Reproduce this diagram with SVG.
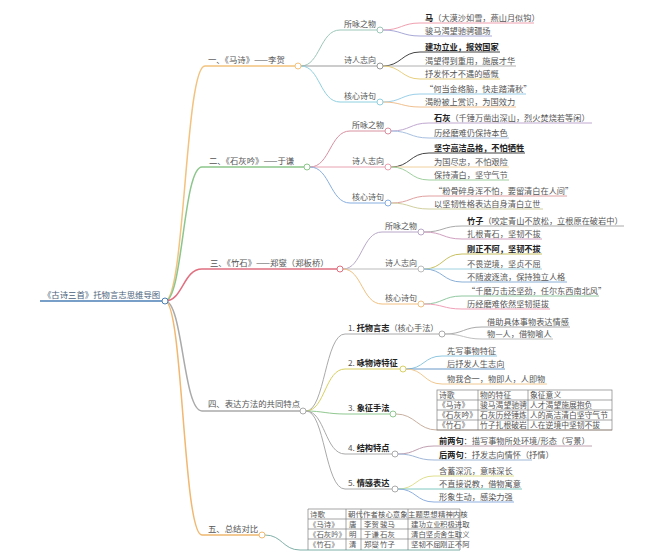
<svg xmlns="http://www.w3.org/2000/svg" width="652" height="559" viewBox="0 0 652 559">
<style>
text{font-family:"Noto Sans CJK SC","Noto Sans",sans-serif;font-size:8.2px;fill:#555}
.l1{font-size:8.4px;fill:#555}
.l2{font-size:8px;fill:#555}
.b{font-weight:bold;fill:#222}
.tb{font-size:7.8px;fill:#555}
.tb5{font-size:7.4px;fill:#555}
#connectors path{fill:none;stroke-width:1}
#connectors .m{stroke-width:1.5}
.dot{fill:#fff;stroke-width:1}
.grid line,.grid rect{stroke:#808080;stroke-width:0.7;fill:none}
</style>
<rect width="652" height="559" fill="#fff"/>
<g id="connectors">
<path d="M40,301 H162" stroke="#4a7fb5" stroke-width="1.8" class="m"/>
<path class="m" d="M165,301 C185,301 185,66 205,66 H295" stroke="#f2c27e"/>
<path class="m" d="M165,301 C183,301 183,167 202,167 H304" stroke="#8cc68c"/>
<path class="m" d="M165,301 C183,301 183,269 202,269 H337" stroke="#e07080"/>
<path class="m" d="M165,301 C183,301 183,411 202,411 H300" stroke="#aaaaaa"/>
<path class="m" d="M165,301 C183,301 183,535 202,535 H259" stroke="#f0b870"/>
<!-- b1 -->
<path d="M301,66 C320,66 320,30 340,30 H377" stroke="#9cc7b8"/>
<path d="M301,66 H377" stroke="#999"/>
<path d="M301,66 C320,66 320,102 340,102 H377" stroke="#8fd0e0"/>
<path d="M383,30 C401,30 402,23 420,23 H534" stroke="#f0a0b0"/>
<path d="M383,30 C401,30 402,36 420,36 H492" stroke="#a8a8d8"/>
<path d="M383,66 C401,66 402,52 420,52 H500" stroke="#444"/>
<path d="M383,66 H516" stroke="#b0b0b0"/>
<path d="M383,66 C401,66 402,79 420,79 H500" stroke="#e8d080"/>
<path d="M383,102 C401,102 402,94 420,94 H526" stroke="#9ad0e8"/>
<path d="M383,102 C401,102 402,107 420,107 H516" stroke="#f0c090"/>
<!-- b2 -->
<path d="M310,167 C330,167 330,131 350,131 H385" stroke="#d890a0"/>
<path d="M310,167 H385" stroke="#e8a0b0"/>
<path d="M310,167 C330,167 330,203 350,203 H385" stroke="#88aee0"/>
<path d="M391,131 C410,131 410,123 429,123 H592" stroke="#c0a8d0"/>
<path d="M391,131 C410,131 410,138 429,138 H509" stroke="#a8c0e0"/>
<path d="M391,167 C410,167 410,153 429,153 H525" stroke="#444"/>
<path d="M391,167 H509" stroke="#f0d0a0"/>
<path d="M391,167 C410,167 410,180 429,180 H509" stroke="#a0d0a0"/>
<path d="M391,203 C410,203 410,196 429,196 H567" stroke="#e0a0a0"/>
<path d="M391,203 C410,203 410,209 429,209 H543" stroke="#d0d0a0"/>
<!-- b3 -->
<path d="M343,269 C362,269 362,232 382,232 H418" stroke="#b8a8c8"/>
<path d="M343,269 H418" stroke="#bbbbbb"/>
<path d="M343,269 C362,269 362,304 382,304 H418" stroke="#f0c080"/>
<path d="M424,232 C443,232 443,226 462,226 H624" stroke="#aaaaaa"/>
<path d="M424,232 C443,232 443,239 462,239 H542" stroke="#d0a0c0"/>
<path d="M424,269 C443,269 443,254 462,254 H542" stroke="#c8c060"/>
<path d="M424,269 H542" stroke="#a0d0e0"/>
<path d="M424,269 C443,269 443,282 462,282 H567" stroke="#8ab0d8"/>
<path d="M424,304 C443,304 443,296 462,296 H599" stroke="#90c8a0"/>
<path d="M424,304 C443,304 443,309 462,309 H550" stroke="#f0a0b8"/>
<!-- b4 -->
<path d="M306,411 C325,411 325,334 345,334 H439" stroke="#aaaaaa"/>
<path d="M306,411 C325,411 325,369 345,369 H400" stroke="#d8d060"/>
<path d="M306,411 C322,411 328,414 345,414 H390" stroke="#90c890"/>
<path d="M306,411 C325,411 325,454 345,454 H392" stroke="#aaaaaa"/>
<path d="M306,411 C325,411 325,489 345,489 H392" stroke="#aaaaaa"/>
<path d="M445,334 C463,334 464,327 482,327 H570" stroke="#aaaaaa"/>
<path d="M445,334 C463,334 464,339 482,339 H553" stroke="#c0c0c0"/>
<path d="M406,369 C424,369 424,356 442,356 H497" stroke="#90c8e0"/>
<path d="M406,369 H505" stroke="#6a9ac8"/>
<path d="M406,369 C424,369 424,384 442,384 H547" stroke="#f0c890"/>
<path d="M396,414 C415,414 418,430 437,430 H612" stroke="#c8b0a0"/>
<path d="M398,454 C416,454 416,446 434,446 H592" stroke="#c0a0b0"/>
<path d="M398,454 C416,454 416,460 434,460 H532" stroke="#a0b8d8"/>
<path d="M398,489 C416,489 416,476 434,476 H514" stroke="#e0e090"/>
<path d="M398,489 H522" stroke="#80c8c0"/>
<path d="M398,489 C416,489 416,502 434,502 H514" stroke="#90b0e0"/>
<!-- b5 -->
<path d="M265,535 C282,535 283,550 300,550 H460" stroke="#7fb0a8"/>
</g>

<g id="root"><text x="43" y="298" class="l1" style="fill:#4a5f7a">《古诗三首》托物言志思维导图</text><circle class="dot" cx="165" cy="301" r="3" stroke="#4a7fb5"/></g>

<g id="b1"><text x="208" y="63" class="l1">一、《马诗》——李贺</text><circle class="dot" cx="298" cy="66" r="3" stroke="#f2c27e"/></g>
<g id="b1-1"><text x="344" y="27" class="l2">所咏之物</text><circle class="dot" cx="380" cy="30" r="3" stroke="#9cc7b8"/></g>
<g id="b1-2"><text x="344" y="63" class="l2">诗人志向</text><circle class="dot" cx="380" cy="66" r="3" stroke="#999"/></g>
<g id="b1-3"><text x="344" y="99" class="l2">核心诗句</text><circle class="dot" cx="380" cy="102" r="3" stroke="#8fd0e0"/></g>
<g id="b1-1a"><text x="425" y="20.5"><tspan class="b">马</tspan>（大漠沙如雪，燕山月似钩）</text></g>
<g id="b1-1b"><text x="425" y="33.5">骏马渴望驰骋疆场</text></g>
<g id="b1-2a"><text x="425" y="49.5" class="b">建功立业，报效国家</text></g>
<g id="b1-2b"><text x="425" y="63.5">渴望得到重用，施展才华</text></g>
<g id="b1-2c"><text x="425" y="76.5">抒发怀才不遇的感慨</text></g>
<g id="b1-3a"><text x="425" y="91.5">“何当金络脑，快走踏清秋”</text></g>
<g id="b1-3b"><text x="425" y="104.5">渴盼被上赏识，为国效力</text></g>

<g id="b2"><text x="209" y="164" class="l1">二、《石灰吟》——于谦</text><circle class="dot" cx="307" cy="167" r="3" stroke="#8cc68c"/></g>
<g id="b2-1"><text x="352" y="128" class="l2">所咏之物</text><circle class="dot" cx="388" cy="131" r="3" stroke="#d890a0"/></g>
<g id="b2-2"><text x="352" y="164" class="l2">诗人志向</text><circle class="dot" cx="388" cy="167" r="3" stroke="#e8a0b0"/></g>
<g id="b2-3"><text x="352" y="200" class="l2">核心诗句</text><circle class="dot" cx="388" cy="203" r="3" stroke="#88aee0"/></g>
<g id="b2-1a"><text x="434" y="120.5"><tspan class="b">石灰</tspan>（千锤万凿出深山，烈火焚烧若等闲）</text></g>
<g id="b2-1b"><text x="434" y="135.5">历经磨难仍保持本色</text></g>
<g id="b2-2a"><text x="434" y="150.5" class="b">坚守高洁品格，不怕牺牲</text></g>
<g id="b2-2b"><text x="434" y="164.5">为国尽忠，不怕艰险</text></g>
<g id="b2-2c"><text x="434" y="177.5">保持清白，坚守气节</text></g>
<g id="b2-3a"><text x="434" y="193.5">“粉骨碎身浑不怕，要留清白在人间”</text></g>
<g id="b2-3b"><text x="434" y="206.5">以坚韧性格表达自身清白立世</text></g>

<g id="b3"><text x="210" y="266" class="l1">三、《竹石》——郑燮（郑板桥）</text><circle class="dot" cx="340" cy="269" r="3" stroke="#e07080"/></g>
<g id="b3-1"><text x="385" y="229" class="l2">所咏之物</text><circle class="dot" cx="421" cy="232" r="3" stroke="#b8a8c8"/></g>
<g id="b3-2"><text x="385" y="266" class="l2">诗人志向</text><circle class="dot" cx="421" cy="269" r="3" stroke="#bbbbbb"/></g>
<g id="b3-3"><text x="385" y="301" class="l2">核心诗句</text><circle class="dot" cx="421" cy="304" r="3" stroke="#f0c080"/></g>
<g id="b3-1a"><text x="467" y="223.5"><tspan class="b">竹子</tspan>（咬定青山不放松，立根原在破岩中）</text></g>
<g id="b3-1b"><text x="467" y="236.5">扎根青石，坚韧不拔</text></g>
<g id="b3-2a"><text x="467" y="251.5" class="b">刚正不阿，坚韧不拔</text></g>
<g id="b3-2b"><text x="467" y="266.5">不畏逆境，坚贞不屈</text></g>
<g id="b3-2c"><text x="467" y="279.5">不随波逐流，保持独立人格</text></g>
<g id="b3-3a"><text x="467" y="293.5">“千磨万击还坚劲，任尔东西南北风”</text></g>
<g id="b3-3b"><text x="467" y="306.5">历经磨难依然坚韧挺拔</text></g>

<g id="b4"><text x="208" y="407" class="l1">四、表达方法的共同特点</text><circle class="dot" cx="303" cy="411" r="3" stroke="#aaaaaa"/></g>
<g id="b4-1"><text x="348" y="331">1. <tspan class="b">托物言志</tspan>（核心手法）</text><circle class="dot" cx="442" cy="334" r="3" stroke="#aaaaaa"/></g>
<g id="b4-2"><text x="348" y="366">2. <tspan class="b">咏物诗特征</tspan></text><circle class="dot" cx="403" cy="369" r="3" stroke="#d8d060"/></g>
<g id="b4-3"><text x="348" y="411">3. <tspan class="b">象征手法</tspan></text><circle class="dot" cx="393" cy="414" r="3" stroke="#90c890"/></g>
<g id="b4-4"><text x="348" y="451">4. <tspan class="b">结构特点</tspan></text><circle class="dot" cx="395" cy="454" r="3" stroke="#aaaaaa"/></g>
<g id="b4-5"><text x="348" y="486">5. <tspan class="b">情感表达</tspan></text><circle class="dot" cx="395" cy="489" r="3" stroke="#aaaaaa"/></g>
<g id="b4-1a"><text x="487" y="324.5">借助具体事物表达情感</text></g>
<g id="b4-1b"><text x="487" y="336.5">物—人，借物喻人</text></g>
<g id="b4-2a"><text x="447" y="353.5">先写事物特征</text></g>
<g id="b4-2b"><text x="447" y="366.5">后抒发人生志向</text></g>
<g id="b4-2c"><text x="447" y="381.5">物我合一，物即人，人即物</text></g>
<g id="b4-3a" class="grid">
<rect x="437" y="390" width="175" height="40"/>
<line x1="437" y1="400" x2="612" y2="400"/><line x1="437" y1="410" x2="612" y2="410"/><line x1="437" y1="420" x2="612" y2="420"/>
<line x1="478" y1="390" x2="478" y2="430"/><line x1="528" y1="390" x2="528" y2="430"/>
<text x="439" y="398" class="tb">诗歌</text><text x="480" y="398" class="tb">物的特征</text><text x="530" y="398" class="tb">象征意义</text>
<text x="438" y="408" class="tb">《马诗》</text><text x="480" y="408" class="tb">骏马渴望驰骋</text><text x="530" y="408" class="tb">人才渴望施展抱负</text>
<text x="438" y="418" class="tb">《石灰吟》</text><text x="480" y="418" class="tb">石灰历经锤炼</text><text x="530" y="418" class="tb">人的高洁清白坚守气节</text>
<text x="438" y="428" class="tb">《竹石》</text><text x="480" y="428" class="tb">竹子扎根破岩</text><text x="530" y="428" class="tb">人在逆境中坚韧不拔</text>
</g>
<g id="b4-4a"><text x="439" y="443.5"><tspan class="b">前两句</tspan>：描写事物所处环境/形态（写景）</text></g>
<g id="b4-4b"><text x="439" y="457.5"><tspan class="b">后两句</tspan>：抒发志向情怀（抒情）</text></g>
<g id="b4-5a"><text x="439" y="473.5">含蓄深沉，意味深长</text></g>
<g id="b4-5b"><text x="439" y="486.5">不直接说教，借物寓意</text></g>
<g id="b4-5c"><text x="439" y="499.5">形象生动，感染力强</text></g>

<g id="b5"><text x="208" y="532" class="l1">五、总结对比</text><circle class="dot" cx="262" cy="535" r="3" stroke="#f0b870"/></g>
<g id="b5-table" class="grid">
<line x1="308" y1="509" x2="460" y2="509"/><line x1="308" y1="519" x2="460" y2="519"/><line x1="308" y1="529" x2="460" y2="529"/><line x1="308" y1="539" x2="460" y2="539"/>
<line x1="308" y1="509" x2="308" y2="550"/><line x1="346" y1="509" x2="346" y2="550"/><line x1="361" y1="509" x2="361" y2="550"/><line x1="408" y1="509" x2="408" y2="550"/><line x1="460" y1="509" x2="460" y2="550"/>
<text x="310" y="517" class="tb5">诗歌</text><text x="348" y="517" class="tb5">朝代</text><text x="363" y="517" class="tb5">作者</text><text x="378" y="517" class="tb5">核心意象</text><text x="408" y="517" class="tb5">主题思想</text><text x="438" y="517" class="tb5">精神内核</text>
<text x="309" y="527" class="tb5">《马诗》</text><text x="349" y="527" class="tb5">唐</text><text x="364" y="527" class="tb5">李贺</text><text x="380" y="527" class="tb5">骏马</text><text x="411" y="527" class="tb5">建功立业</text><text x="440" y="527" class="tb5">积极进取</text>
<text x="309" y="537" class="tb5">《石灰吟》</text><text x="349" y="537" class="tb5">明</text><text x="364" y="537" class="tb5">于谦</text><text x="380" y="537" class="tb5">石灰</text><text x="411" y="537" class="tb5">清白坚贞</text><text x="440" y="537" class="tb5">舍生取义</text>
<text x="309" y="547" class="tb5">《竹石》</text><text x="349" y="547" class="tb5">清</text><text x="364" y="547" class="tb5">郑燮</text><text x="380" y="547" class="tb5">竹子</text><text x="411" y="547" class="tb5">坚韧不屈</text><text x="440" y="547" class="tb5">刚正不阿</text>
</g>
</svg>
